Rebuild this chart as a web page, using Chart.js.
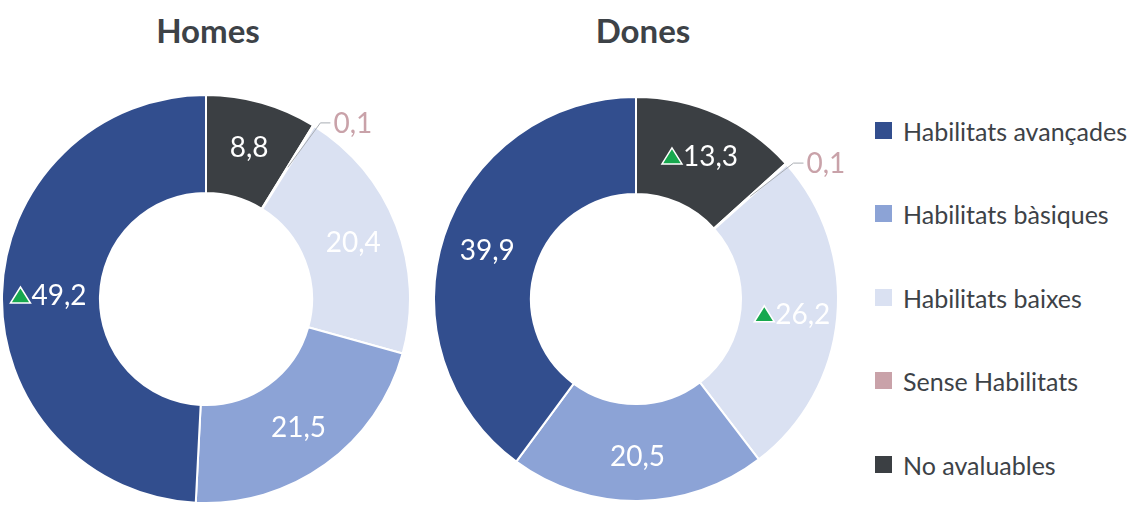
<!DOCTYPE html>
<html>
<head>
<meta charset="utf-8">
<script src="https://cdn.jsdelivr.net/npm/chart.js@4/dist/chart.umd.min.js"></script>
<style>
  html, body { margin:0; padding:0; background:#ffffff; }
  #wrap { position:relative; width:1129px; height:506px; overflow:hidden; font-family:Lato, "Open Sans", sans-serif; color:#3d4247; }
  .title { position:absolute; top:8px; font-size:33px; font-weight:700; width:300px; text-align:center; line-height:44px; color:#3d4247; }
  canvas { position:absolute; }
  #legend { position:absolute; left:875px; top:0; }
  .item { position:absolute; left:0; white-space:nowrap; font-size:25px; line-height:28px; height:28px; }
  .sw { position:absolute; left:0; top:5px; width:17px; height:17px; }
  .lt { position:absolute; left:28px; top:0; }
</style>
</head>
<body>
<div id="wrap">
  <div class="title" id="t1" style="left:58px;"></div>
  <div class="title" id="t2" style="left:493px;"></div>
  <canvas id="c1" width="410" height="410" style="left:1px;top:94px;width:410px;height:410px;"></canvas>
  <canvas id="c2" width="436" height="406" style="left:433px;top:96px;width:436px;height:406px;"></canvas>
  <div id="legend"></div>
</div>
<script>
// Categories in drawing order (clockwise from 12 o'clock)
const categories = ['No avaluables', 'Sense Habilitats', 'Habilitats baixes', 'Habilitats bàsiques', 'Habilitats avançades'];
const colors = ['#3b3f43', '#c9a2a9', '#dae1f2', '#8ca3d6', '#324e8e'];
const titles = ['Homes', 'Dones'];
const homesValues = [8.8, 0.1, 20.4, 21.5, 49.2];
const donesValues = [13.3, 0.1, 26.2, 20.5, 39.9];
const homesUp = [false, false, false, false, true];
const donesUp = [true, false, true, false, false];

document.getElementById('t1').textContent = titles[0];
document.getElementById('t2').textContent = titles[1];

// HTML legend (reverse of drawing order)
const legendEl = document.getElementById('legend');
const legendRows = [131, 214, 298, 381, 465];
categories.slice().reverse().forEach((c, i) => {
  const idx = categories.length - 1 - i;
  const d = document.createElement('div');
  d.className = 'item';
  d.style.top = (legendRows[i] - 14) + 'px';
  d.innerHTML = '<span class="sw" style="background:' + colors[idx] + '"></span><span class="lt"></span>';
  d.querySelector('.lt').textContent = c;
  legendEl.appendChild(d);
});

function fmt(v) { return v.toFixed(1).replace('.', ','); }

const labelPlugin = {
  id: 'sliceLabels',
  afterDatasetsDraw(chart) {
    const ctx = chart.ctx;
    const meta = chart.getDatasetMeta(0);
    const ds = chart.data.datasets[0];
    const ups = ds.upFlags;
    ctx.save();
    ctx.font = '28px Lato, "Open Sans", sans-serif';
    ctx.textBaseline = 'middle';
    meta.data.forEach((arc, i) => {
      const v = ds.data[i];
      const p = arc.getProps(['x', 'y', 'startAngle', 'endAngle', 'innerRadius', 'outerRadius'], true);
      const mid = (p.startAngle + p.endAngle) / 2;
      const txt = fmt(v);
      if (v < 1) {
        const r0 = (p.innerRadius + p.outerRadius) / 2;
        const r1 = p.outerRadius + 6;
        const x0 = p.x + Math.cos(mid) * r0, y0 = p.y + Math.sin(mid) * r0;
        const x1 = p.x + Math.cos(mid + 0.02) * r1, y1 = p.y + Math.sin(mid + 0.02) * r1;
        ctx.strokeStyle = '#a9adb3';
        ctx.lineWidth = 1;
        ctx.beginPath();
        ctx.moveTo(x0, y0);
        ctx.lineTo(x1, y1);
        ctx.lineTo(x1 + 10, y1);
        ctx.stroke();
        ctx.fillStyle = '#c9a2a9';
        ctx.textAlign = 'left';
        ctx.fillText(txt, x1 + 13, y1 + 1);
      } else {
        const r = (p.innerRadius + p.outerRadius) / 2 + 3;
        const cx = p.x + Math.cos(mid) * r, cy = p.y + Math.sin(mid) * r;
        const tw = ctx.measureText(txt).width;
        const triW = ups[i] ? 22 : 0;
        const startX = cx - (tw + triW) / 2;
        if (ups[i]) {
          ctx.beginPath();
          ctx.moveTo(startX + 1, cy + 8);
          ctx.lineTo(startX + 21, cy + 8);
          ctx.lineTo(startX + 11, cy - 8);
          ctx.closePath();
          ctx.fillStyle = '#17a84e';
          ctx.fill();
          ctx.strokeStyle = '#ffffff';
          ctx.lineWidth = 1.5;
          ctx.stroke();
        }
        ctx.fillStyle = '#ffffff';
        ctx.textAlign = 'left';
        ctx.fillText(txt, startX + triW, cy + 1);
      }
    });
    ctx.restore();
  }
};

function makeChart(id, values, ups, padRight) {
  return new Chart(document.getElementById(id), {
    type: 'doughnut',
    data: {
      labels: categories,
      datasets: [{
        data: values,
        upFlags: ups,
        backgroundColor: colors,
        borderColor: '#ffffff',
        borderWidth: 2
      }]
    },
    options: {
      responsive: false,
      maintainAspectRatio: false,
      animation: false,
      cutout: '52%',
      layout: { padding: { left: 0, top: 0, bottom: 0, right: padRight } },
      plugins: { legend: { display: false }, tooltip: { enabled: false }, title: { display: false } }
    },
    plugins: [labelPlugin]
  });
}

makeChart('c1', homesValues, homesUp, 0);
makeChart('c2', donesValues, donesUp, 30);
</script>
</body>
</html>
